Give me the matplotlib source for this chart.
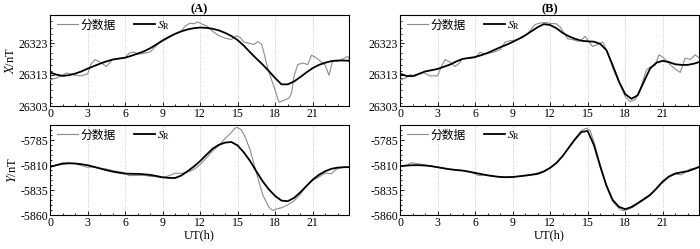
import matplotlib
matplotlib.use("Agg")
import matplotlib.pyplot as plt
from matplotlib.ticker import MultipleLocator

plt.rcParams['font.family'] = ['Liberation Serif', 'Noto Sans CJK SC']
plt.rcParams['mathtext.fontset'] = 'stix'
plt.rcParams['axes.unicode_minus'] = False

# ---------------- data ----------------
t_half = [0, 0.5, 1, 1.5, 2, 2.5, 3, 3.5, 4, 4.5, 5, 5.5, 6, 6.5, 7, 7.5, 8, 8.5, 9, 9.5,
          10, 10.5, 11, 11.5, 12, 12.5, 13, 13.5, 14, 14.5, 15, 15.5, 16, 16.5, 17, 17.5,
          18, 18.5, 19, 19.5, 20, 20.5, 21, 21.5, 22, 22.5, 23, 23.5, 23.9]

# Panel A, X component, S_R
ax_sr_A = [26313.7, 26313.0, 26312.6, 26312.8, 26313.3, 26314.0, 26314.9, 26315.7, 26316.5, 26317.2,
           26317.8, 26318.1, 26318.4, 26319.0, 26319.7, 26320.4, 26321.4, 26322.6, 26323.9, 26325.0,
           26326.0, 26326.8, 26327.4, 26327.8, 26328.0, 26327.9, 26327.6, 26327.1, 26326.3, 26325.3,
           26324.0, 26322.2, 26320.1, 26318.1, 26316.2, 26314.1, 26311.9, 26309.9, 26309.9, 26310.8,
           26312.2, 26313.7, 26315.1, 26316.1, 26316.8, 26317.3, 26317.5, 26317.5, 26317.4]

# Panel A, X component, minute data
t_x_min_A = [0, 0.4, 0.8, 1.3, 1.7, 2.0, 2.5, 3.0, 3.3, 3.6, 4.0, 4.5, 5.0, 5.5, 6.0, 6.3, 6.7,
             7.0, 7.5, 8.0, 8.3, 8.7, 9.0, 9.5, 10.0, 10.5, 10.8, 11.2, 11.5, 11.8, 12.2, 12.5,
             13.0, 13.5, 14.0, 14.5, 14.9, 15.2, 15.5, 15.9, 16.3, 16.6, 16.9, 17.1, 17.4, 17.8,
             18.0, 18.3, 18.7, 19.1, 19.3, 19.5, 19.8, 20.2, 20.6, 20.9, 21.3, 21.7, 22.0, 22.3,
             22.6, 23.0, 23.3, 23.8, 23.9]
x_min_A = [26311.3, 26311.8, 26312.4, 26313.5, 26313.2, 26312.8, 26312.6, 26313.2, 26316.5, 26317.8,
           26317.0, 26315.6, 26317.8, 26318.2, 26318.3, 26319.8, 26320.2, 26319.5, 26319.8, 26320.2,
           26321.5, 26323.0, 26323.6, 26324.8, 26326.0, 26326.8, 26328.5, 26329.4, 26329.2, 26329.8,
           26329.0, 26328.6, 26326.8, 26325.4, 26324.6, 26324.2, 26325.4, 26324.8, 26323.4, 26323.0,
           26322.6, 26323.5, 26322.8, 26320.0, 26315.0, 26310.3, 26308.0, 26304.2, 26304.8, 26305.5,
           26307.0, 26312.4, 26316.2, 26316.7, 26316.2, 26319.2, 26318.3, 26317.0, 26316.0, 26312.8,
           26317.5, 26317.2, 26317.8, 26318.8, 26318.0]

# Panel A, Y component, S_R
y_sr_A = [-5811.9, -5810.2, -5808.8, -5808.3, -5808.5, -5809.2, -5810.2, -5811.8, -5813.5, -5815.1,
          -5816.6, -5817.7, -5818.6, -5818.8, -5818.9, -5819.3, -5819.9, -5821.0, -5822.3, -5822.9,
          -5823.0, -5820.5, -5816.2, -5811.5, -5806.1, -5799.8, -5793.7, -5789.8, -5787.6, -5787.0,
          -5790.5, -5797.5, -5806.1, -5816.5, -5826.3, -5834.5, -5841.0, -5845.6, -5846.2, -5843.0,
          -5837.4, -5831.0, -5824.6, -5819.8, -5816.2, -5813.8, -5812.6, -5812.2, -5812.1]

# Panel A, Y component, minute data
t_y_min_A = [0, 0.5, 1.0, 1.5, 2.0, 2.5, 3.0, 3.5, 4.0, 4.5, 5.0, 5.5, 6.0, 6.3, 7.0, 7.5, 8.0,
             8.5, 9.0, 9.5, 10.0, 10.5, 11.0, 11.5, 12.0, 12.5, 13.0, 13.5, 14.0, 14.5, 14.8, 15.0,
             15.3, 15.6, 16.0, 16.5, 17.0, 17.5, 17.8, 18.1, 18.5, 19.0, 19.5, 19.8, 20.0, 20.5,
             21.0, 21.5, 22.0, 22.5, 22.7, 23.0, 23.5, 23.9]
y_min_A = [-5811.9, -5810.0, -5807.8, -5808.0, -5808.5, -5810.5, -5812.2, -5812.0, -5813.2, -5814.0,
           -5815.6, -5816.5, -5818.0, -5820.6, -5820.4, -5820.2, -5821.3, -5821.8, -5822.6, -5820.8,
           -5818.2, -5818.4, -5817.0, -5814.5, -5809.5, -5803.0, -5796.0, -5790.5, -5783.5, -5777.5,
           -5773.0, -5772.6, -5775.0, -5782.0, -5795.0, -5818.0, -5839.8, -5852.3, -5855.5, -5854.0,
           -5852.8, -5850.0, -5846.0, -5842.0, -5839.5, -5831.0, -5825.5, -5822.0, -5818.0, -5818.8,
           -5816.0, -5813.5, -5812.3, -5812.1]

# Panel B, X component, S_R
x_sr_B = [26313.3, 26312.6, 26312.5, 26313.2, 26314.0, 26314.4, 26314.8, 26315.5, 26316.2, 26317.2,
          26318.0, 26318.3, 26318.6, 26319.2, 26319.9, 26320.8, 26321.7, 26322.5, 26323.4, 26324.4,
          26325.5, 26326.8, 26328.1, 26329.1, 26328.8, 26327.8, 26326.3, 26325.2, 26324.4, 26323.8,
          26323.6, 26323.5, 26322.8, 26320.8, 26316.0, 26310.8, 26306.8, 26305.3, 26306.4, 26310.8,
          26315.0, 26316.8, 26317.4, 26317.0, 26316.3, 26316.1, 26316.1, 26316.5, 26317.0]

# Panel B, X component, minute data
t_x_min_B = [0, 0.4, 0.8, 1.2, 1.6, 1.9, 2.4, 3.0, 3.3, 3.6, 4.0, 4.4, 4.7, 5.0, 5.5, 6.0, 6.4,
             6.8, 7.2, 7.6, 8.0, 8.4, 8.8, 9.2, 9.8, 10.3, 10.8, 11.3, 11.7, 12.0, 12.5, 12.8,
             13.4, 13.8, 14.2, 14.5, 14.8, 15.1, 15.4, 15.8, 16.2, 16.6, 17.0, 17.6, 18.0, 18.4,
             18.8, 19.2, 19.7, 20.0, 20.4, 20.7, 21.0, 21.6, 22.0, 22.4, 22.8, 23.2, 23.6, 23.9]
x_min_B = [26311.3, 26311.8, 26313.0, 26312.5, 26313.5, 26313.6, 26312.6, 26312.6, 26315.5, 26317.8,
           26317.0, 26315.6, 26316.5, 26318.1, 26318.2, 26318.4, 26320.1, 26319.6, 26319.9, 26320.3,
           26320.9, 26323.4, 26323.8, 26324.0, 26324.8, 26326.5, 26329.0, 26329.5, 26329.6, 26329.3,
           26329.2, 26328.2, 26324.4, 26324.2, 26323.6, 26324.0, 26325.2, 26323.5, 26322.0, 26322.6,
           26323.4, 26320.0, 26315.1, 26309.8, 26306.0, 26304.4, 26305.0, 26308.4, 26314.5, 26315.4,
           26316.0, 26319.3, 26318.6, 26316.2, 26314.8, 26313.7, 26318.3, 26317.8, 26319.3, 26318.3]

# Panel B, Y component, S_R
y_sr_B = [-5811.2, -5810.6, -5810.2, -5810.2, -5810.5, -5811.2, -5812.2, -5813.3, -5814.3, -5815.0,
          -5815.6, -5816.7, -5817.9, -5819.1, -5820.3, -5821.2, -5822.0, -5822.2, -5822.0, -5821.3,
          -5820.6, -5819.8, -5818.9, -5816.5, -5812.9, -5808.0, -5801.1, -5792.5, -5784.2, -5777.0,
          -5776.0, -5790.0, -5811.2, -5830.5, -5845.0, -5851.8, -5854.2, -5852.0, -5848.2, -5844.0,
          -5839.8, -5833.5, -5826.5, -5821.5, -5818.5, -5817.3, -5816.2, -5814.0, -5812.0]

# Panel B, Y component, minute data
t_y_min_B = [0, 0.5, 0.9, 1.3, 1.8, 2.5, 3.0, 4.0, 5.0, 5.6, 6.0, 6.3, 6.7, 7.5, 8.5, 9.0, 9.5,
             10.0, 10.5, 11.0, 11.5, 12.0, 12.5, 13.0, 13.5, 14.0, 14.5, 14.9, 15.2, 15.6, 16.0,
             16.5, 17.0, 17.5, 17.8, 18.2, 18.6, 19.0, 19.5, 20.0, 20.5, 20.8, 21.0, 21.5, 22.0,
             22.5, 22.8, 23.2, 23.6, 23.9]
y_min_B = [-5811.2, -5810.5, -5807.8, -5808.5, -5809.5, -5811.0, -5812.2, -5814.3, -5815.6, -5816.5,
           -5819.0, -5820.6, -5820.0, -5821.4, -5822.0, -5821.8, -5821.5, -5820.4, -5819.5, -5817.8,
           -5816.0, -5812.5, -5807.8, -5801.0, -5792.5, -5783.5, -5775.5, -5773.2, -5775.5, -5791.0,
           -5810.0, -5831.5, -5846.5, -5853.5, -5855.6, -5854.5, -5852.3, -5849.0, -5845.0, -5840.5,
           -5833.5, -5829.0, -5827.5, -5822.0, -5819.0, -5819.8, -5817.0, -5814.0, -5813.0, -5811.8]

titles = ["(A)", "(B)"]
label_min = "分数据"
label_sr = r"$S_{\mathrm{R}}$"
xticks = [0, 3, 6, 9, 12, 15, 18, 21]
x_yticks = [26303, 26313, 26323]
y_yticks = [-5860, -5835, -5810, -5785]

# ---------------- plot ----------------
W, H = 700, 249
fig = plt.figure(figsize=(7.0, 2.49), dpi=100)

def rect(x0, y0, x1, y1):
    return [x0 / W, 1 - y1 / H, (x1 - x0) / W, (y1 - y0) / H]

axes = {
    ('A', 'X'): fig.add_axes(rect(50, 15, 349, 106)),
    ('B', 'X'): fig.add_axes(rect(400, 15, 699, 106)),
    ('A', 'Y'): fig.add_axes(rect(50, 125, 349, 215)),
    ('B', 'Y'): fig.add_axes(rect(400, 125, 699, 215)),
}

series = {
    ('A', 'X'): (t_x_min_A, x_min_A, t_half, ax_sr_A),
    ('B', 'X'): (t_x_min_B, x_min_B, t_half, x_sr_B),
    ('A', 'Y'): (t_y_min_A, y_min_A, t_half, y_sr_A),
    ('B', 'Y'): (t_y_min_B, y_min_B, t_half, y_sr_B),
}

for (p, comp), ax in axes.items():
    tm, vm, ts, vs = series[(p, comp)]
    ax.plot(tm, vm, color='#8c8c8c', lw=0.8, label=label_min, zorder=3)
    ax.plot(ts, vs, color='black', lw=1.3, label=label_sr, zorder=4)
    ax.set_xlim(0, 23.9)
    ax.set_xticks(xticks)
    ax.xaxis.set_minor_locator(MultipleLocator(1))
    for xv in xticks[1:]:
        ax.axvline(xv, color='#c8c8c8', lw=0.7, ls=(0, (1, 1.5)), zorder=1)
    if comp == 'X':
        ax.set_ylim(26303, 26332)
        ax.set_yticks(x_yticks)
        ax.yaxis.set_minor_locator(MultipleLocator(2))
    else:
        ax.set_ylim(-5860, -5770)
        ax.set_yticks(y_yticks)
        ax.yaxis.set_minor_locator(MultipleLocator(5))
    ax.tick_params(which='both', direction='in', labelsize=8.5, top=False, right=False,
                   pad=1.5, width=0.6)
    ax.tick_params(which='major', length=3)
    ax.tick_params(which='minor', length=1.5)
    for s in ax.spines.values():
        s.set_linewidth(0.8)
    ax.legend(loc='upper left', ncol=2, frameon=False, fontsize=8.5,
              handlelength=1.8, handletextpad=0.15, columnspacing=1.6,
              bbox_to_anchor=(0.0, 1.03), borderaxespad=0.2)
    if p == 'A':
        ax.set_ylabel(r"$X$/nT" if comp == 'X' else r"$Y$/nT", fontsize=9, labelpad=1)
    if comp == 'X':
        ax.set_title(titles[0] if p == 'A' else titles[1], fontsize=9, fontweight='bold', pad=2)
    else:
        ax.set_xlabel("UT(h)", fontsize=9, labelpad=0)

fig.savefig("out.png", dpi=100)
